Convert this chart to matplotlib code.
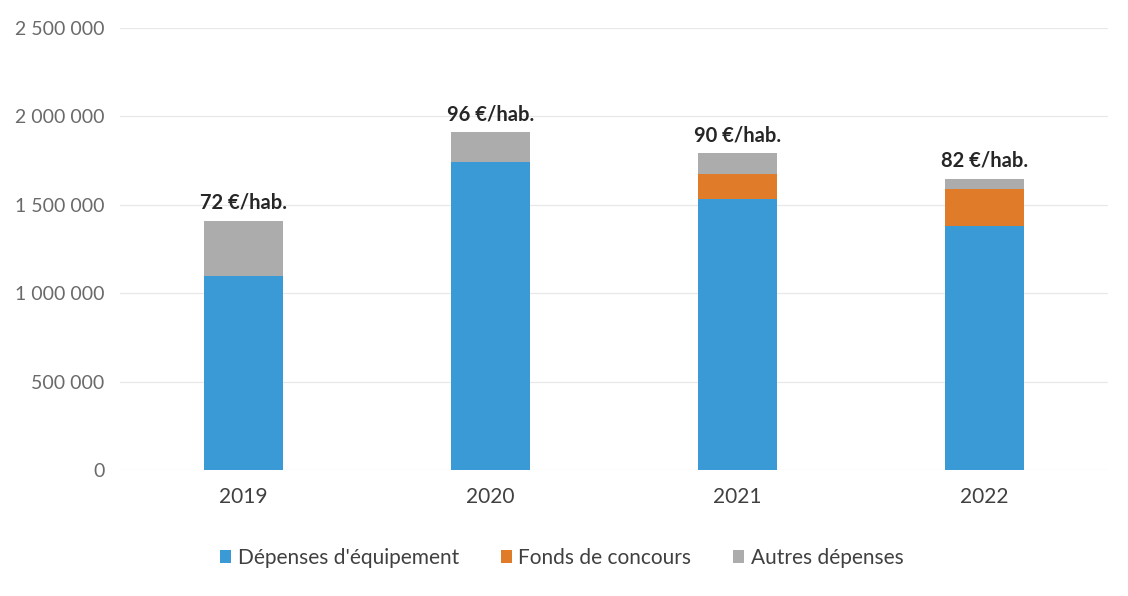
import matplotlib.pyplot as plt
from matplotlib.ticker import FuncFormatter

plt.rcParams['font.family'] = ['Lato', 'DejaVu Sans']

years = ['2019', '2020', '2021', '2022']
equipement = [1100000, 1740000, 1533000, 1380000]
fonds_concours = [0, 0, 141000, 210000]
autres = [310000, 170000, 119000, 57000]
par_habitant = [72, 96, 90, 82]

fig = plt.figure(figsize=(11.28, 5.96), dpi=100)
ax = fig.add_axes([120 / 1128, 126 / 596, 988 / 1128, 442 / 596])

x = range(len(years))
w = 0.32
b1 = ax.bar(x, equipement, w, color='#3a9ad6', label="Dépenses d'équipement", zorder=3)
bottom2 = equipement
b2 = ax.bar(x, fonds_concours, w, bottom=bottom2, color='#e07b2a',
            label='Fonds de concours', zorder=3)
bottom3 = [a + b for a, b in zip(equipement, fonds_concours)]
b3 = ax.bar(x, autres, w, bottom=bottom3, color='#acacac',
            label='Autres dépenses', zorder=3)

# total per year with per-inhabitant label above each stack
for i, (base, extra, val) in enumerate(zip(bottom3, autres, par_habitant)):
    ax.text(i, base + extra + 45000, f'{val} €/hab.', ha='center', va='bottom',
            fontsize=14.5, fontweight='bold', color='#262626')

ax.set_ylim(0, 2500000)
ax.set_xlim(-0.5, 3.5)
ax.set_yticks(range(0, 2500001, 500000))
ax.yaxis.set_major_formatter(FuncFormatter(lambda v, p: f'{int(v):,}'.replace(',', ' ')))
ax.set_xticks(list(x))
ax.set_xticklabels(years)
ax.tick_params(axis='y', length=0, pad=11, labelsize=14, labelcolor='#6a6a6a')
ax.tick_params(axis='x', length=0, pad=12, labelsize=15, labelcolor='#404040')
ax.grid(axis='y', color='#e8e8e8', linewidth=0.9, zorder=0)
for s in ax.spines.values():
    s.set_visible(False)

fig.legend(handles=[b1, b2, b3], loc='center', bbox_to_anchor=(0.498, 0.064),
           ncol=3, frameon=False, fontsize=15, handlelength=0.55, handleheight=0.55,
           handletextpad=0.3, columnspacing=2.0, labelcolor='#404040')

fig.savefig('out.png', dpi=100)
